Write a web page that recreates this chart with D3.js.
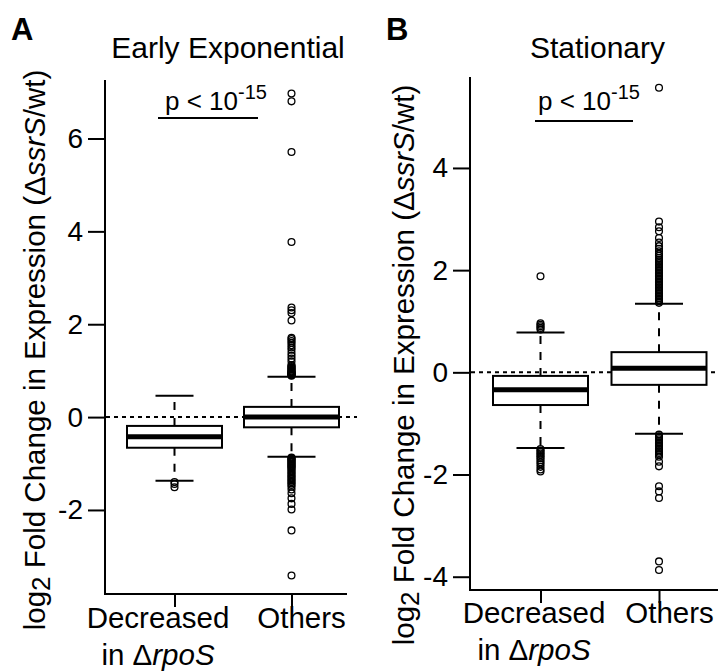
<!DOCTYPE html>
<html>
<head>
<meta charset="utf-8">
<script src="https://cdn.jsdelivr.net/npm/d3@7"></script>
<style>
  body { margin: 0; background: #fff; }
  svg text { font-family: "Liberation Sans", Arial, sans-serif; fill: #000; }
</style>
</head>
<body>
<svg width="718" height="671"></svg>
<script>
"use strict";

// categories and ticks
var categories = ["Decreased", "Others"];
var ticksEarly = [-2, 0, 2, 4, 6];
var ticksStat = [-4, -2, 0, 2, 4];

// box stats: [lower whisker, q1, median, q3, upper whisker]
var statsEarly = [
    [-1.37, -0.66, -0.425, -0.19, 0.46],
    [-0.855, -0.22, 0.0, 0.22, 0.87]
];
var statsStat = [
    [-1.48, -0.64, -0.34, -0.07, 0.78],
    [-1.2, -0.245, 0.08, 0.395, 1.34]
];

// outliers
var outEarlyDecreased = [-1.40, -1.44, -1.51];
var outEarlyOthers = [
    0.89, 0.9, 0.91, 0.92, 0.93, 0.94, 0.95, 0.96, 0.97, 0.98, 1.0, 1.02, 1.04,
    1.06, 1.08, 1.1, 1.12, 1.2, 1.26, 1.32, 1.38, 1.45, 1.5, 1.55, 1.6, 1.64,
    1.68, 1.71, 2.08, 2.24, 2.3, 2.36, 3.77, 5.71, 6.8, 6.97,
    -0.87, -0.88, -0.9, -0.92, -0.94, -0.96, -0.98, -1.0, -1.02, -1.04, -1.06,
    -1.08, -1.1, -1.13, -1.16, -1.19, -1.22, -1.25, -1.28, -1.31, -1.34, -1.37,
    -1.4, -1.43, -1.46, -1.5, -1.56, -1.64, -1.75, -1.87, -1.99, -2.44, -3.41
];
var outStatDecreased = [
    0.84, 0.87, 0.9, 0.93, 0.96, 1.88,
    -1.5, -1.53, -1.56, -1.59, -1.62, -1.65, -1.68, -1.72, -1.76, -1.8, -1.85,
    -1.9, -1.94
];
var outStatOthers = [
    1.36, 1.39, 1.42, 1.45, 1.48, 1.51, 1.54, 1.57, 1.6, 1.63, 1.66, 1.69, 1.72,
    1.75, 1.78, 1.81, 1.84, 1.87, 1.9, 1.93, 1.96, 1.99, 2.02, 2.05, 2.08, 2.11,
    2.14, 2.17, 2.2, 2.24, 2.28, 2.32, 2.37, 2.42, 2.47, 2.54, 2.63, 2.76, 2.84,
    2.95, 5.57,
    -1.22, -1.25, -1.28, -1.31, -1.34, -1.37, -1.4, -1.43, -1.46, -1.49, -1.52,
    -1.55, -1.58, -1.61, -1.65, -1.75, -1.84, -2.23, -2.33, -2.46, -3.70, -3.87
];

var FONT = 29.5;

window.onload = function () {
    var svg = d3.select("svg");

    drawPanel(svg, {
        letter: "A", letterX: 11, title: "Early Exponential", titleX: 228,
        xLeft: 105, xRight: 347, top: 80, bottom: 594,
        domain: [-3.81, 7.26], ticks: ticksEarly,
        centers: [174.5, 291.5], capW: [38, 48],
        stats: statsEarly, outliers: [outEarlyDecreased, outEarlyOthers],
        pX: 165, lineX: [158, 258], lineY: 118, zeroEnd: 357,
        labelX: 45, labelY: 350,
        catX: [158, 301.5], catY: 628
    });

    drawPanel(svg, {
        letter: "B", letterX: 386, title: "Stationary", titleX: 597.5,
        xLeft: 470, xRight: 718, top: 77, bottom: 590,
        domain: [-4.26, 5.78], ticks: ticksStat,
        centers: [540.5, 659], capW: [48, 48],
        stats: statsStat, outliers: [outStatDecreased, outStatOthers],
        pX: 538, lineX: [535, 633], lineY: 121, zeroEnd: 718,
        labelX: 414, labelY: 365,
        catX: [534, 669.5], catY: 623
    });
};

function drawPanel(svg, c) {
    var y = d3.scaleLinear().domain(c.domain).range([c.bottom, c.top]);
    var x = d3.scalePoint().domain(categories).range(c.centers);
    var boxW = 95;
    var g = svg.append("g");

    // panel letter and title
    g.append("text").attr("x", c.letterX).attr("y", 40)
        .style("font-size", "31px").style("font-weight", "bold").text(c.letter);
    g.append("text").attr("x", c.titleX).attr("y", 58)
        .attr("text-anchor", "middle").style("font-size", "30px").text(c.title);

    // p value
    var p = g.append("text").attr("x", c.pX).attr("y", 110).style("font-size", "26px");
    p.append("tspan").text("p < 10");
    p.append("tspan").attr("dy", -11).style("font-size", "20px").text("-15");
    g.append("line")
        .attr("x1", c.lineX[0]).attr("x2", c.lineX[1])
        .attr("y1", c.lineY).attr("y2", c.lineY)
        .attr("stroke", "#000").attr("stroke-width", 2);

    // y axis
    var yAxis = g.append("g").attr("transform", "translate(" + c.xLeft + ",0)")
        .call(d3.axisLeft(y).tickValues(c.ticks).tickSize(17).tickPadding(5)
            .tickFormat(d3.format("d")));
    yAxis.select(".domain").remove();
    yAxis.selectAll(".tick line").attr("stroke-width", 2);
    yAxis.selectAll(".tick text").style("font-size", "28px")
        .style("font-family", "'Liberation Sans', Arial, sans-serif")
        .text(function (d) { return d < 0 ? "-" + Math.abs(d) : d; });
    g.append("line").attr("x1", c.xLeft).attr("x2", c.xLeft)
        .attr("y1", c.top).attr("y2", c.bottom + 1)
        .attr("stroke", "#000").attr("stroke-width", 2);

    // x axis
    var xAxis = g.append("g").attr("transform", "translate(0," + c.bottom + ")")
        .call(d3.axisBottom(x).tickSize(13).tickFormat(""));
    xAxis.select(".domain").remove();
    xAxis.selectAll(".tick line").attr("stroke-width", 2);
    g.append("line").attr("x1", c.xLeft - 1).attr("x2", c.xRight)
        .attr("y1", c.bottom).attr("y2", c.bottom)
        .attr("stroke", "#000").attr("stroke-width", 2);

    // zero reference line
    g.append("line").attr("x1", c.xLeft + 1).attr("x2", c.zeroEnd)
        .attr("y1", y(0)).attr("y2", y(0))
        .attr("stroke", "#000").attr("stroke-width", 2)
        .attr("stroke-dasharray", "4,4");

    // boxes
    categories.forEach(function (cat, i) {
        var s = c.stats[i], cx = x(cat), bg = g.append("g");
        // whiskers, drawn from the box outwards
        [[s[3], s[4]], [s[1], s[0]]].forEach(function (w) {
            bg.append("line").attr("x1", cx).attr("x2", cx)
                .attr("y1", y(w[0])).attr("y2", y(w[1]))
                .attr("stroke", "#000").attr("stroke-width", 2)
                .attr("stroke-dasharray", "8,8");
        });
        [s[0], s[4]].forEach(function (v) {
            bg.append("line").attr("x1", cx - c.capW[i] / 2).attr("x2", cx + c.capW[i] / 2)
                .attr("y1", y(v)).attr("y2", y(v))
                .attr("stroke", "#000").attr("stroke-width", 2);
        });
        bg.append("rect").attr("x", cx - boxW / 2).attr("width", boxW)
            .attr("y", y(s[3])).attr("height", y(s[1]) - y(s[3]))
            .attr("fill", "#fff").attr("stroke", "#000").attr("stroke-width", 2);
        bg.append("line").attr("x1", cx - boxW / 2).attr("x2", cx + boxW / 2)
            .attr("y1", y(s[2])).attr("y2", y(s[2]))
            .attr("stroke", "#000").attr("stroke-width", 5);

        bg.selectAll("circle").data(c.outliers[i]).enter().append("circle")
            .attr("cx", cx).attr("cy", function (d) { return y(d); })
            .attr("r", 3.4).attr("fill", "none")
            .attr("stroke", "#000").attr("stroke-width", 1.3);
    });

    // category labels
    g.append("text").attr("x", c.catX[0]).attr("y", c.catY)
        .attr("text-anchor", "middle").style("font-size", FONT + "px").text("Decreased");
    var t2 = g.append("text").attr("x", c.catX[0]).attr("y", c.catY + 37)
        .attr("text-anchor", "middle").style("font-size", FONT + "px");
    t2.append("tspan").text("in Δ");
    t2.append("tspan").style("font-style", "italic").text("rpoS");
    g.append("text").attr("x", c.catX[1]).attr("y", c.catY)
        .attr("text-anchor", "middle").style("font-size", FONT + "px").text("Others");

    // y label
    var yl = g.append("text")
        .attr("transform", "translate(" + c.labelX + "," + c.labelY + ") rotate(-90)")
        .attr("text-anchor", "middle").style("font-size", FONT + "px");
    yl.append("tspan").text("log");
    yl.append("tspan").attr("dy", 5).style("font-size", "26px").text("2");
    yl.append("tspan").attr("dy", -5).text(" Fold Change in Expression (Δ");
    yl.append("tspan").style("font-style", "italic").text("ssrS");
    yl.append("tspan").text("/wt)");
}
</script>
</body>
</html>
